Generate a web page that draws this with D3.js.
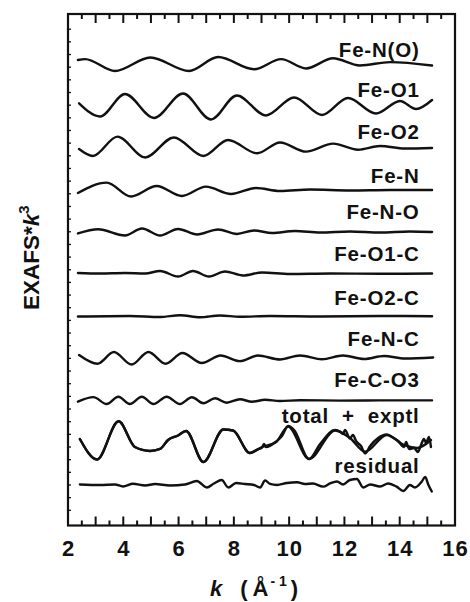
<!DOCTYPE html>
<html>
<head>
<meta charset="utf-8">
<script src="https://cdn.jsdelivr.net/npm/d3@7/dist/d3.min.js"></script>
<style>
  body { margin: 0; background: #fff; }
  svg text { font-family: "Liberation Sans", Arial, Helvetica, sans-serif; font-weight: bold; fill: #111; }
</style>
</head>
<body>
<svg id="chart" width="470" height="602"></svg>
<script>
// k^3-weighted EXAFS contributions of the single and multiple scattering paths,
// sampled at their turning points; each trace is shifted up by its offset.
const kFeNO   = [2.36, 2.62, 3.70, 4.98, 6.38, 7.43, 8.73, 9.71, 10.61, 11.59, 12.56, 13.65, 15.17];
const chiFeNO = [0.7, 0.9, -1.9, 1.3, -1.9, 1.4, -1.5, 0.9, -1.3, 1.1, -0.6, 0.2, -0.6];

const kFeO1   = [2.40, 3.16, 4.06, 5.11, 6.16, 7.17, 8.11, 9.16, 10.18, 11.19, 12.13, 13.14, 14.01, 14.59, 15.17];
const chiFeO1 = [0.45, -2.68, 2.65, -3.03, 2.77, -3.39, 2.30, -2.44, 1.82, -2.32, 1.71, -1.97, 1.0, -0.9, 1.23];

const kFeO2   = [2.40, 2.90, 3.79, 4.79, 5.83, 6.90, 7.79, 8.84, 9.67, 10.61, 11.59, 12.49, 13.29, 14.19, 15.17];
const chiFeO2 = [-0.38, -2.04, 2.54, -2.39, 2.35, -2.04, 1.75, -1.40, 1.16, -1.02, 0.88, -0.55, 0.33, -0.26, -0.14];

const kFeN    = [2.36, 3.40, 4.28, 5.21, 6.12, 6.99, 7.90, 8.80, 9.67, 10.76, 12.20, 13.65, 15.17];
const chiFeN  = [-0.81, 1.64, -1.64, 0.85, -1.52, 0.69, -1.04, 0.38, -0.33, 0.02, -0.21, -0.09, -0.09];

const kFeNO2   = [2.36, 3.09, 4.06, 4.68, 5.33, 5.98, 6.67, 7.43, 8.11, 8.73, 9.38, 10.21, 11.12, 12.20, 13.29, 14.37, 15.17];
const chiFeNO2 = [-0.40, 0.59, -0.88, 0.78, -0.88, 0.66, -0.64, 0.55, -0.52, 0.31, -0.28, 0.19, -0.17, 0.07, -0.17, 0.07, -0.05];

const kFeO1C   = [2.36, 3.16, 4.06, 4.79, 5.33, 5.98, 6.52, 7.10, 7.68, 8.33, 9.02, 10.03, 11.48, 13.29, 15.17];
const chiFeO1C = [0.24, 0.12, 0.24, 0.12, 0.71, -0.59, 0.71, -0.59, 0.59, -0.36, 0.36, 0, 0.12, 0.05, 0.12];

const kFeO2C   = [2.36, 4.24, 5.33, 6.05, 6.78, 7.50, 8.22, 9.31, 11.12, 13.29, 15.17];
const chiFeO2C = [-0.07, 0.05, -0.19, 0.21, -0.24, 0.17, -0.14, 0.05, -0.07, 0.05, -0.02];

const kFeNC   = [2.40, 3.07, 3.66, 4.30, 4.91, 5.53, 6.14, 6.84, 7.52, 8.22, 8.87, 9.67, 10.39, 11.19, 11.95, 12.71, 13.43, 14.19, 15.21];
const chiFeNC = [0.81, -1.26, 1.52, -1.45, 1.52, -1.26, 1.28, -1.09, 0.69, -0.66, 0.69, -0.26, 0.69, -0.21, 0.69, -0.14, 0.57, -0.02, 0.21];

const kFeCO3   = [2.36, 2.92, 3.40, 3.82, 4.24, 4.67, 5.09, 5.57, 6.05, 6.48, 6.90, 7.32, 7.74, 8.22, 8.66, 9.13, 9.67, 10.39, 11.84, 13.29, 15.17];
const chiFeCO3 = [-0.26, 0.81, -0.81, 0.92, -0.81, 0.92, -0.81, 0.90, -0.81, 0.78, -0.64, 0.55, -0.50, 0.31, -0.28, 0.19, -0.09, 0.09, 0, 0.05, 0.05];

// summed fit and measured spectrum (drawn on the same offset)
const kTotal   = [2.43, 3.05, 3.83, 4.42, 4.97, 5.33, 5.62, 5.98, 6.27, 6.90, 7.62, 7.97, 8.58, 9.02, 9.53, 9.96, 10.72, 11.66, 12.20, 12.75, 13.53, 14.19, 14.63, 15.13];
const chiTotal = [0.90, -3.96, 5.09, -1.00, -1.94, -1.47, 0.66, 1.73, 2.80, -4.55, 3.15, 2.91, -2.42, -1.00, 0.19, 3.82, -3.84, 2.91, 1.14, -2.11, 1.85, -0.64, -1.23, 0.66];

const kExptl   = [2.43, 3.05, 3.83, 4.42, 4.97, 5.33, 5.62, 5.98, 6.27, 6.90, 7.62, 7.97, 8.58, 8.84, 9.02, 9.09, 9.16, 9.53, 9.74, 9.96, 10.18, 10.72, 11.12, 11.66, 11.84, 11.95, 12.02, 12.20, 12.31, 12.42, 12.60, 12.75, 12.93, 13.22, 13.53, 13.72, 13.94, 14.16, 14.23, 14.34, 14.52, 14.66, 14.77, 14.88, 14.95, 15.06, 15.13];
const chiExptl = [0.90, -3.96, 5.09, -1.00, -1.94, -1.47, 0.66, 1.73, 2.80, -4.55, 3.15, 2.91, -2.42, -1.59, -1.11, -0.28, -1.00, 0.31, 1.61, 3.98, 3.03, -3.84, -0.28, 3.03, 2.68, 2.09, 3.03, 1.02, 1.85, 0.43, -0.76, -2.54, -0.76, 1.14, 1.97, 1.37, 0.43, -1.00, 0.19, -1.47, -1.23, -2.18, -0.52, 0.90, -0.05, 1.37, -1.00];

const kResid   = [2.43, 3.16, 3.70, 3.99, 4.35, 4.79, 5.15, 5.69, 6.23, 6.66, 7.02, 7.28, 7.56, 7.80, 8.08, 8.40, 8.73, 8.95, 9.13, 9.31, 9.56, 9.92, 10.29, 10.57, 10.86, 11.23, 11.48, 11.73, 11.95, 12.20, 12.45, 12.68, 12.93, 13.29, 13.58, 13.89, 14.13, 14.37, 14.55, 14.80, 14.92, 15.04, 15.16];
const chiResid = [0.12, 0, 0.12, -0.36, 0.28, -0.12, 0.24, -0.12, 0.12, 0.95, -0.59, 0.36, 1.18, -0.59, 0.47, 0.24, 0, -0.59, 1.07, 0.24, 0, 0.47, 0.64, 0.24, 0.36, -0.40, 0.36, 0.83, 0.12, 1.18, 1.42, -0.59, 0.12, -0.36, 0.36, -0.40, -1.42, 0, -0.59, 0.83, 1.90, 0, -1.54];

const traceNames   = ["Fe-N(O)", "Fe-O1", "Fe-O2", "Fe-N", "Fe-N-O", "Fe-O1-C", "Fe-O2-C", "Fe-N-C", "Fe-C-O3", "total  +  exptl", "residual"];
const traceOffsets = [100, 90, 80, 70, 60, 50, 40, 30, 20, 10, 0];

const kTickLabels = [2, 4, 6, 8, 10, 12, 14, 16];
const kMajorTicks = [3, 4, 5, 6, 7, 8, 9, 10, 11, 12, 13, 14, 15];
const kMinorTicks = [2.5, 3.5, 4.5, 5.5, 6.5, 7.5, 8.5, 9.5, 10.5, 11.5, 12.5, 13.5, 14.5, 15.5];

// ---- drawing ----
const svg = d3.select("#chart");
const box = { left: 68, right: 455, top: 14, bottom: 525.5 };

const x = d3.scaleLinear().domain([2, 16]).range([box.left, box.right]);
const y = d3.scaleLinear().domain([-9.6, 111.6]).range([box.bottom, box.top]);

// traces
const traces = [
  { k: kFeNO,   chi: chiFeNO,   off: traceOffsets[0] },
  { k: kFeO1,   chi: chiFeO1,   off: traceOffsets[1] },
  { k: kFeO2,   chi: chiFeO2,   off: traceOffsets[2] },
  { k: kFeN,    chi: chiFeN,    off: traceOffsets[3] },
  { k: kFeNO2,  chi: chiFeNO2,  off: traceOffsets[4] },
  { k: kFeO1C,  chi: chiFeO1C,  off: traceOffsets[5] },
  { k: kFeO2C,  chi: chiFeO2C,  off: traceOffsets[6] },
  { k: kFeNC,   chi: chiFeNC,   off: traceOffsets[7] },
  { k: kFeCO3,  chi: chiFeCO3,  off: traceOffsets[8] },
  { k: kTotal,  chi: chiTotal,  off: traceOffsets[9] },
  { k: kExptl,  chi: chiExptl,  off: traceOffsets[9] },
  { k: kResid,  chi: chiResid,  off: traceOffsets[10] }
];

const line = d3.line()
  .x(d => x(d[0]))
  .y(d => y(d[1]))
  .curve(d3.curveMonotoneX);

svg.append("g")
  .selectAll("path")
  .data(traces)
  .join("path")
  .attr("d", t => line(t.k.map((k, i) => [k, t.chi[i] + t.off])))
  .attr("fill", "none")
  .attr("stroke", "#111")
  .attr("stroke-width", 2.4)
  .attr("stroke-linejoin", "round")
  .attr("stroke-linecap", "round");

// trace labels, right-aligned above each trace
const labelLift = [6.3, 8, 8, 7, 12.3, 12.5, 11.2, 12, 13.6, 19.8, 12];
svg.append("g")
  .selectAll("text")
  .data(traceNames)
  .join("text")
  .attr("x", x(14.72))
  .attr("y", (d, i) => y(traceOffsets[i]) - labelLift[i])
  .attr("text-anchor", "end")
  .attr("font-size", 20.5)
  .attr("letter-spacing", 0.8)
  .style("white-space", "pre")
  .text(d => d);

// k tick labels
const gLab = svg.append("g").attr("transform", `translate(0,${box.bottom})`)
  .call(d3.axisBottom(x).tickValues(kTickLabels).tickSize(0).tickPadding(15));
gLab.select(".domain").remove();
gLab.selectAll("text")
  .attr("font-size", 22)
  .attr("letter-spacing", 1)
  .attr("fill", "#111");

// axis titles
const xt = svg.append("text").attr("x", 210).attr("y", 596).attr("font-size", 22);
xt.append("tspan").attr("font-style", "italic").text("k");
xt.append("tspan").attr("dx", 18).text("(");
xt.append("tspan").attr("dx", 5).text("Å");
xt.append("tspan").attr("dx", 2).attr("dy", -10).attr("font-size", 14).text("- 1");
xt.append("tspan").attr("dx", 4).attr("dy", 10).text(")");

const yt = svg.append("text")
  .attr("transform", "translate(39,310) rotate(-90)")
  .attr("font-size", 22.5);
yt.append("tspan").text("EXAFS*");
yt.append("tspan").attr("font-style", "italic").text("k");
yt.append("tspan").attr("dy", -10).attr("font-size", 15).text("3");

// frame
svg.append("rect")
  .attr("x", box.left).attr("y", box.top)
  .attr("width", box.right - box.left)
  .attr("height", box.bottom - box.top)
  .attr("fill", "none").attr("stroke", "#111").attr("stroke-width", 2.2);

// inward ticks on the k axes (long at integers, short at half-integers)
function drawKTicks(values, len) {
  svg.append("g").selectAll("line").data(values).join("line")
    .attr("x1", d => x(d)).attr("x2", d => x(d))
    .attr("y1", box.bottom).attr("y2", box.bottom - len)
    .attr("stroke", "#111").attr("stroke-width", 2);
  svg.append("g").selectAll("line").data(values).join("line")
    .attr("x1", d => x(d)).attr("x2", d => x(d))
    .attr("y1", box.top).attr("y2", box.top + len)
    .attr("stroke", "#111").attr("stroke-width", 2);
}
drawKTicks(kMajorTicks, 9);
drawKTicks(kMinorTicks, 5);

// small ticks along the intensity axis
svg.append("g").selectAll("line").data(d3.range(-6, 111, 3)).join("line")
  .attr("x1", box.left).attr("x2", box.left + 3)
  .attr("y1", d => y(d)).attr("y2", d => y(d))
  .attr("stroke", "#111").attr("stroke-width", 1.3);
</script>
</body>
</html>
